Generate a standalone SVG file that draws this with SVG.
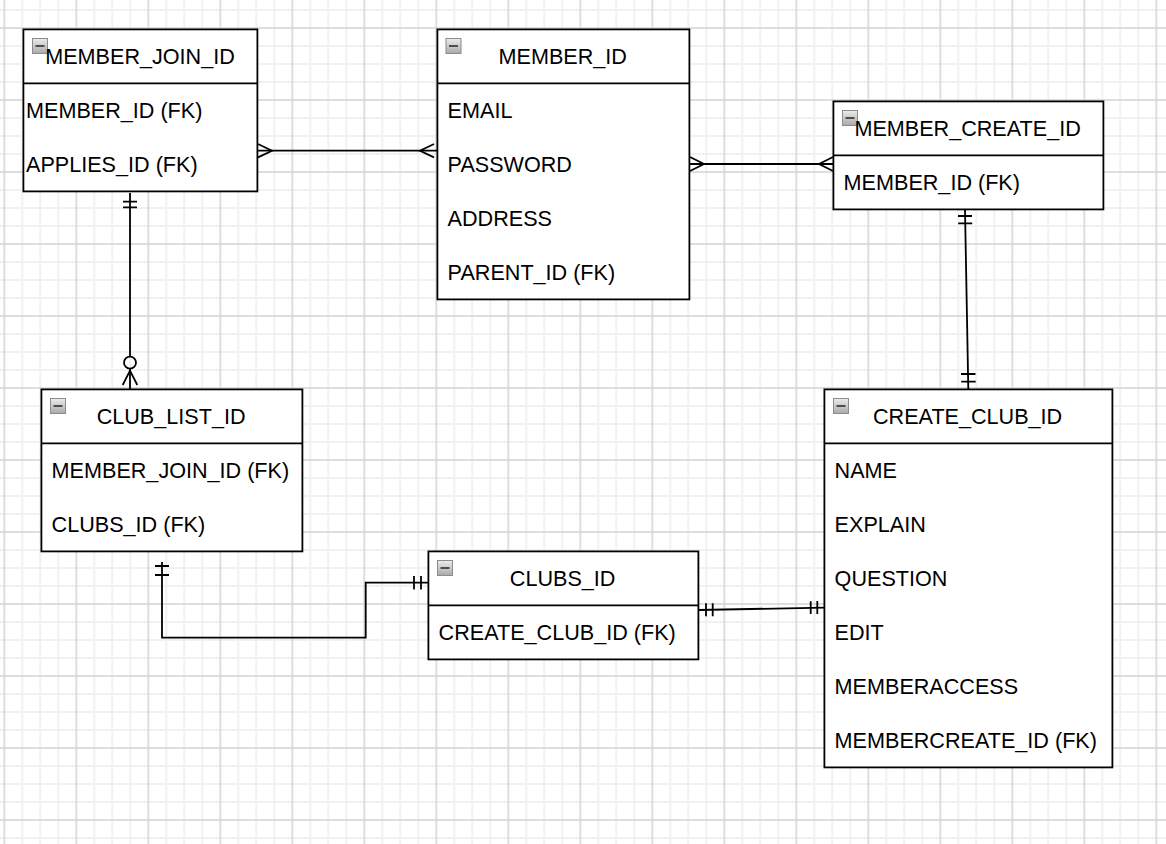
<svg xmlns="http://www.w3.org/2000/svg" width="1166" height="844" viewBox="0 0 1166 844">
<defs>
<pattern id="grid" width="72" height="72" patternUnits="userSpaceOnUse" x="-4.7" y="19">
<path d="M27 0V72M45 0V72M63 0V72M0 27H72M0 45H72M0 63H72" stroke="#f1f1f1" stroke-width="2" fill="none"/>
<path d="M9 0V72M0 9H72" stroke="#d3d3d3" stroke-width="1.5" fill="none"/>
</pattern>
<linearGradient id="ig" x1="0" y1="0" x2="0" y2="1">
<stop offset="0" stop-color="#ececec"/>
<stop offset="1" stop-color="#a9a9a9"/>
</linearGradient>
<g id="icon">
<rect x="0.5" y="0.5" width="15" height="15" fill="url(#ig)" stroke="#8c8c8c" stroke-width="1"/>
<line x1="3.5" y1="8" x2="12.5" y2="8" stroke="#222" stroke-width="1.5"/>
</g>
</defs>
<style>
.box{fill:#fff;stroke:#000;stroke-width:1.8}
.div{stroke:#000;stroke-width:1.8}
text{font-family:"Liberation Sans",Arial,Helvetica,sans-serif;font-size:21.6px;fill:#000}
.h{text-anchor:middle}
.c{fill:none;stroke:#000;stroke-width:1.8}
</style>
<rect width="1166" height="844" fill="#fff"/>
<rect width="1166" height="844" fill="url(#grid)"/>

<g id="connectors">
<path class="c" d="M257.4 150.7H437.4"/>
<path class="c" d="M258 144L272 150.7L258 157.4M434 144L420 150.7L434 157.4"/>
<path class="c" d="M689.4 164H833.4"/>
<path class="c" d="M690 157L704 164L690 171M833 157L819 164L833 171"/>
<path class="c" d="M130 193V356.7M130 368.7V389.4"/>
<path class="c" d="M123 201.7H137M123 207.3H137"/>
<circle class="c" cx="130" cy="362.7" r="6"/>
<path class="c" d="M122.7 385L130 370.7L137.3 385"/>
<path class="c" d="M965 209.4L968.3 389.4"/>
<path class="c" d="M958 216H972M958.2 223.3H972.2M961 374H975.5M961.2 381.7H975.7"/>
<path class="c" d="M162 562V637.7H365.7V582.7H428.4"/>
<path class="c" d="M155 566H169M155 575H169M414 576V589.5M421 576V589.5"/>
<path class="c" d="M698.4 610L824.4 607.6"/>
<path class="c" d="M706 603.3V616.3M712.7 603.2V616.2M810.7 601.2V614M817.3 601V613.9"/>
</g>

<g id="MEMBER_JOIN_ID">
<rect class="box" x="23.4" y="29.4" width="234" height="162"/>
<line class="div" x1="23.4" y1="83.4" x2="257.4" y2="83.4"/>
<use href="#icon" x="32" y="38"/>
<text class="h" x="140" y="64">MEMBER_JOIN_ID</text>
<text x="26" y="117.9">MEMBER_ID (FK)</text>
<text x="26" y="171.9">APPLIES_ID (FK)</text>
</g>

<g id="MEMBER_ID">
<rect class="box" x="437.4" y="29.4" width="252" height="270"/>
<line class="div" x1="437.4" y1="83.4" x2="689.4" y2="83.4"/>
<use href="#icon" x="445.5" y="38"/>
<text class="h" x="562.7" y="64">MEMBER_ID</text>
<text x="447.6" y="117.9">EMAIL</text>
<text x="447.6" y="171.9">PASSWORD</text>
<text x="447.6" y="225.9">ADDRESS</text>
<text x="447.6" y="279.9">PARENT_ID (FK)</text>
</g>

<g id="MEMBER_CREATE_ID">
<rect class="box" x="833.4" y="101.4" width="270" height="108"/>
<line class="div" x1="833.4" y1="155.4" x2="1103.4" y2="155.4"/>
<use href="#icon" x="842" y="110"/>
<text class="h" x="967.6" y="136">MEMBER_CREATE_ID</text>
<text x="843.6" y="189.9">MEMBER_ID (FK)</text>
</g>

<g id="CLUB_LIST_ID">
<rect class="box" x="41.4" y="389.4" width="261" height="162"/>
<line class="div" x1="41.4" y1="443.4" x2="302.4" y2="443.4"/>
<use href="#icon" x="50" y="398"/>
<text class="h" x="171.1" y="424">CLUB_LIST_ID</text>
<text x="51.6" y="477.9">MEMBER_JOIN_ID (FK)</text>
<text x="51.6" y="531.9">CLUBS_ID (FK)</text>
</g>

<g id="CLUBS_ID">
<rect class="box" x="428.4" y="551.4" width="270" height="108"/>
<line class="div" x1="428.4" y1="605.4" x2="698.4" y2="605.4"/>
<use href="#icon" x="437" y="560"/>
<text class="h" x="562.6" y="586">CLUBS_ID</text>
<text x="438.6" y="639.9">CREATE_CLUB_ID (FK)</text>
</g>

<g id="CREATE_CLUB_ID">
<rect class="box" x="824.4" y="389.4" width="288" height="378"/>
<line class="div" x1="824.4" y1="443.4" x2="1112.4" y2="443.4"/>
<use href="#icon" x="833" y="398"/>
<text class="h" x="967.6" y="424">CREATE_CLUB_ID</text>
<text x="834.6" y="477.9">NAME</text>
<text x="834.6" y="531.9">EXPLAIN</text>
<text x="834.6" y="585.9">QUESTION</text>
<text x="834.6" y="639.9">EDIT</text>
<text x="834.6" y="693.9">MEMBERACCESS</text>
<text x="834.6" y="747.9">MEMBERCREATE_ID (FK)</text>
</g>
</svg>
